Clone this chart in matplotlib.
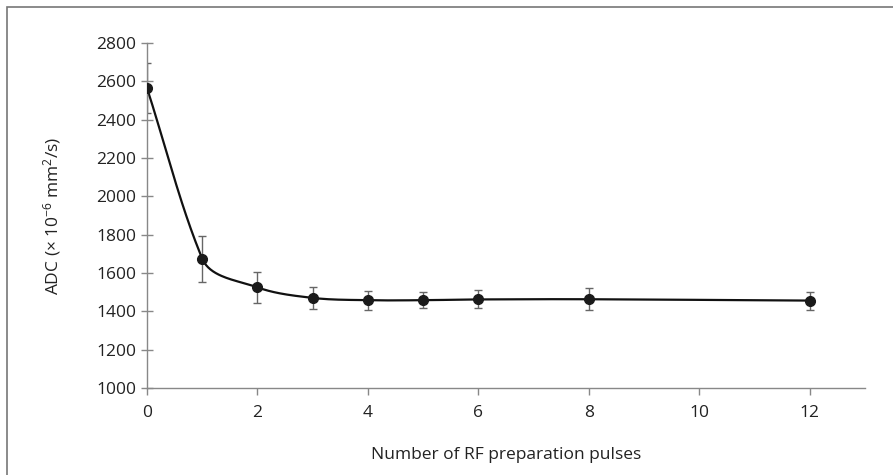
import numpy as np
import matplotlib
matplotlib.use("Agg")
import matplotlib.pyplot as plt
from matplotlib.patches import Rectangle

plt.rcParams["font.family"] = ["Open Sans", "DejaVu Sans"]
plt.rcParams["mathtext.fontset"] = "custom"
plt.rcParams["mathtext.rm"] = "Open Sans"
plt.rcParams["mathtext.default"] = "regular"

# data
pulses = [0, 1, 2, 3, 4, 5, 6, 8, 12]
adc    = [2565, 1675, 1525, 1470, 1458, 1458, 1462, 1463, 1456]
err    = [130, 120, 80, 57, 50, 42, 47, 57, 47]

def smooth(x, y, sx=55.5, sy=0.1917, n=40):
    # smoothed line through the points, bezier segments in pixel-like units
    P = np.c_[np.asarray(x, float)*sx, np.asarray(y, float)*sy]
    N = len(P)
    tang = np.zeros_like(P)
    for i in range(N):
        a = P[i] - P[i-1] if i > 0 else np.zeros(2)
        b = P[i+1] - P[i] if i < N-1 else np.zeros(2)
        v = a*np.hypot(*a) + b*np.hypot(*b)   # lean toward the longer neighbour segment
        tang[i] = v / np.hypot(*v)
    out = [P[0]]
    t = np.linspace(0, 1, n)[1:, None]
    for i in range(N-1):
        d = np.hypot(*(P[i+1]-P[i]))
        c1 = P[i] + tang[i]*d/3
        c2 = P[i+1] - tang[i+1]*d/3
        seg = (1-t)**3*P[i] + 3*(1-t)**2*t*c1 + 3*(1-t)*t**2*c2 + t**3*P[i+1]
        out.extend(seg)
    out = np.array(out)
    return out[:, 0]/sx, out[:, 1]/sy

fig = plt.figure(figsize=(8.93, 4.75), dpi=100)
ax = fig.add_axes([0.1646, 0.1832, 0.8041, 0.7263])

lx, ly = smooth(pulses, adc)
ax.plot(lx, ly, color="#111111", lw=1.6, zorder=2)
ax.errorbar(pulses, adc, yerr=err, fmt="none", ecolor="#666666", elinewidth=1,
            capsize=3, capthick=1, zorder=1)
ax.plot(pulses, adc, "o", color="#1a1a1a", ms=7, zorder=3)

ax.set_xlim(0, 13)
ax.set_ylim(1000, 2800)
ax.set_xticks(range(0, 13, 2))
ax.set_yticks(range(1000, 2801, 200))
for s in ["top", "right"]:
    ax.spines[s].set_visible(False)
for s in ["left", "bottom"]:
    ax.spines[s].set_color("#888888")
    ax.spines[s].set_linewidth(1)
ax.tick_params(colors="#888888", labelcolor="#222222", labelsize=12.5, length=5, width=1)
ax.tick_params(axis="x", pad=7)
ax.tick_params(axis="y", direction="inout", length=8)
ax.set_xlabel("Number of RF preparation pulses", fontsize=12.5, color="#222222", labelpad=19)
ax.set_ylabel("ADC (× 10$^{-6}$ mm$^{2}$/s)", fontsize=12.5, color="#222222", labelpad=24)

# outer frame (only top and left edges fall inside the image)
fig.patches.append(Rectangle((7/893, -0.1), 1.2, 1.1 - 7/475, transform=fig.transFigure,
                             fill=False, edgecolor="#777777", lw=1.2))

fig.savefig("out.png", dpi=100)
